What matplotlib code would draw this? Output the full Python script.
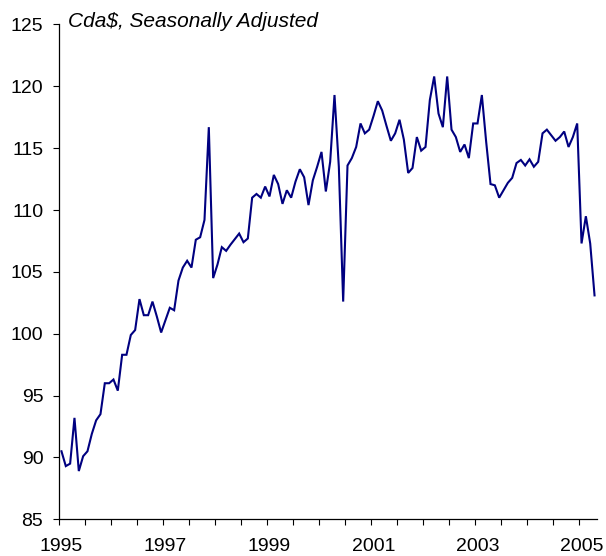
import numpy as np
import matplotlib
matplotlib.use("Agg")
import matplotlib.pyplot as plt
from matplotlib.ticker import FixedLocator

plt.rcParams['font.family'] = ['Liberation Sans', 'DejaVu Sans']

# Monthly values, Jan 1995 - Apr 2005 (Cda$, seasonally adjusted)
values = [
    90.5, 89.3, 89.5, 93.2, 88.9, 90.1, 90.5, 91.9, 93.0, 93.5, 96.0, 96.0,      # 1995
    96.3, 95.4, 98.3, 98.3, 99.9, 100.3, 102.8, 101.5, 101.5, 102.6, 101.4, 100.1,  # 1996
    101.1, 102.1, 101.9, 104.3, 105.35, 105.9, 105.35, 107.6, 107.8, 109.2, 116.7, 104.5,  # 1997
    105.6, 107.0, 106.7, 107.2, 107.65, 108.1, 107.4, 107.7, 111.0, 111.3, 111.0, 111.9,  # 1998
    111.1, 112.84, 112.1, 110.5, 111.6, 111.0, 112.3, 113.3, 112.65, 110.4, 112.4, 113.5,  # 1999
    114.7, 111.5, 113.9, 119.3, 113.5, 102.6, 113.6, 114.2, 115.1, 117.0, 116.2, 116.5,  # 2000
    117.6, 118.8, 118.05, 116.8, 115.6, 116.2, 117.3, 115.7, 113.0, 113.4, 115.9, 114.8,  # 2001
    115.1, 118.9, 120.8, 117.8, 116.7, 120.8, 116.5, 115.9, 114.7, 115.3, 114.2, 117.0,  # 2002
    117.0, 119.3, 115.5, 112.1, 112.0, 111.0, 111.6, 112.2, 112.6, 113.8, 114.05, 113.6,  # 2003
    114.1, 113.5, 113.9, 116.2, 116.5, 116.05, 115.6, 115.9, 116.35, 115.1, 115.9, 117.0,  # 2004
    107.3, 109.5, 107.3, 103.1,  # 2005
]
year_labels = ["1995", "1997", "1999", "2001", "2003", "2005"]
y_ticks = [85, 90, 95, 100, 105, 110, 115, 120, 125]
title_text = "Cda$, Seasonally Adjusted"

n = len(values)
x = np.arange(n) + 0.5

fig = plt.figure(figsize=(6.06, 5.56), dpi=100)
ax = fig.add_axes([59.3/606, 1 - 519.3/556, (596.7 - 59.3)/606, (519.3 - 24.5)/556])

ax.plot(x, values, color="#000080", lw=1.5, solid_joinstyle="miter")

ax.set_xlim(0, n)
ax.set_ylim(85, 125)

ax.set_yticks(y_ticks)
ax.set_yticklabels([str(v) for v in y_ticks])

label_pos = [i * 24 + 0.5 for i in range(len(year_labels))]
ax.xaxis.set_major_locator(FixedLocator(label_pos))
ax.set_xticklabels(year_labels)
ax.xaxis.set_minor_locator(FixedLocator(np.arange(0, 121, 6)))

ax.tick_params(axis="x", which="major", length=0, pad=13.5, labelsize=14)
ax.tick_params(axis="x", which="minor", length=4, width=0.8, direction="out", color="black")
ax.tick_params(axis="y", which="major", length=4.5, width=0.8, direction="out", pad=7, labelsize=14, color="black")

for s in ["top", "right"]:
    ax.spines[s].set_visible(False)
for s in ["left", "bottom"]:
    ax.spines[s].set_linewidth(0.9)
    ax.spines[s].set_color("black")

fig.text(68/606, 1 - 27/556, title_text, fontsize=15, style="italic",
         ha="left", va="baseline")

fig.savefig("out.png", dpi=100)
